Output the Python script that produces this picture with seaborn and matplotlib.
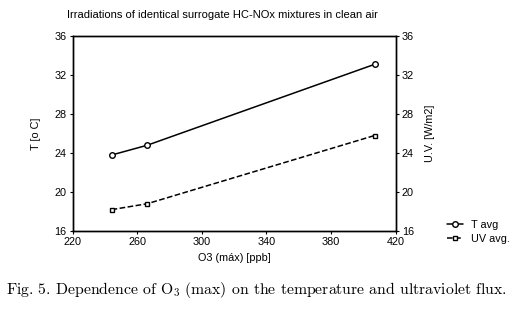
import numpy as np
import pandas as pd
import matplotlib
matplotlib.use("Agg")
import matplotlib.pyplot as plt
import seaborn as sns

# values
o3_max = [244, 266, 407]
t_avg = [23.8, 24.8, 33.1]
uv_avg = [18.2, 18.8, 25.8]

sns.set_theme(style="ticks")
plt.rcParams['font.family'] = ['Liberation Sans', 'DejaVu Sans']
plt.rcParams['mathtext.fontset'] = 'cm'
plt.rcParams['text.color'] = 'black'
plt.rcParams['axes.labelcolor'] = 'black'

df = pd.DataFrame({"o3": o3_max, "T avg": t_avg, "UV avg.": uv_avg})

fig = plt.figure(figsize=(5.17, 3.11), dpi=100)
ax = fig.add_axes([0.141, 0.257, 0.624, 0.627])
ax2 = ax.twinx()

sns.lineplot(data=df, x="o3", y="T avg", ax=ax, color="black", lw=1.1,
             marker="o", markersize=4, markerfacecolor="white",
             markeredgecolor="black", markeredgewidth=1, label="T avg", legend=False)
sns.lineplot(data=df, x="o3", y="UV avg.", ax=ax2, color="black", lw=1.1,
             linestyle="--", marker="s", markersize=3.5, markerfacecolor="white",
             markeredgecolor="black", markeredgewidth=1, label="UV avg.", legend=False)

for a in (ax, ax2):
    a.set_ylim(16, 36)
    a.set_yticks(np.arange(16, 37, 4))
    a.set_xlim(220, 420)
    a.tick_params(labelsize=7.8, length=2.5, width=0.8, pad=2, colors="black")
    for s in a.spines.values():
        s.set_linewidth(1.0)
        s.set_color("black")
ax.set_xticks(np.arange(220, 421, 40))
ax.set_xlabel("O3 (máx) [ppb]", fontsize=7.8, labelpad=4)
ax.set_ylabel("T [o C]", fontsize=7.8, labelpad=10)
ax2.set_ylabel("U.V. [W/m2]", fontsize=7.8, labelpad=8)

fig.text(0.431, 0.952, "Irradiations of identical surrogate HC-NOx mixtures in clean air",
         ha="center", va="center", fontsize=8.0)

h1, l1 = ax.get_legend_handles_labels()
h2, l2 = ax2.get_legend_handles_labels()
fig.legend(h1 + h2, l1 + l2, loc="center left", bbox_to_anchor=(0.855, 0.255),
           frameon=False, fontsize=7.8, handlelength=1.4, handletextpad=0.8,
           labelspacing=0.4, borderpad=0)

fig.text(0.012, 0.068,
         "Fig. 5. Dependence of O$_3$ (max) on the temperature and ultraviolet flux.",
         ha="left", va="center", fontsize=11.3, family="cmr10")

fig.savefig("out.png", dpi=100)
